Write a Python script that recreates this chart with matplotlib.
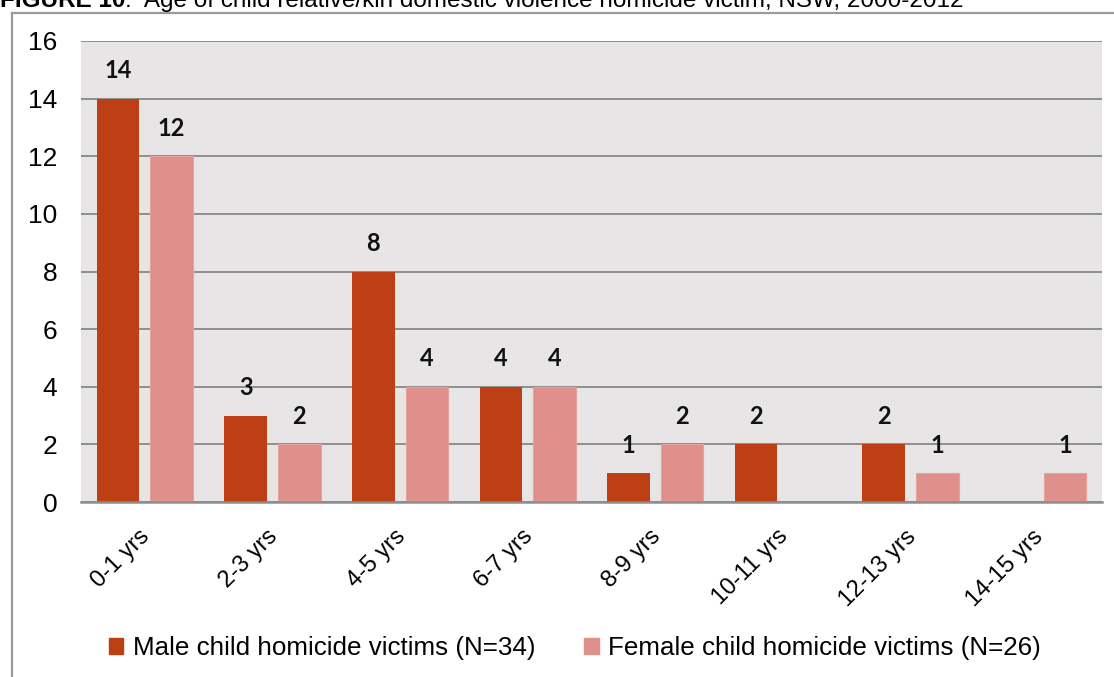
import matplotlib
matplotlib.use("Agg")
import matplotlib.pyplot as plt
from matplotlib.lines import Line2D
from matplotlib.patches import Patch
import matplotlib.transforms as mtransforms
import numpy as np

categories = ["0-1 yrs", "2-3 yrs", "4-5 yrs", "6-7 yrs", "8-9 yrs", "10-11 yrs", "12-13 yrs", "14-15 yrs"]
male = [14, 3, 8, 4, 1, 2, 2, 0]
female = [12, 2, 4, 4, 2, 0, 1, 1]
male_label = "Male child homicide victims (N=34)"
female_label = "Female child homicide victims (N=26)"
title_bold = "FIGURE 10"
title_rest = ":  Age of child relative/kin domestic violence homicide victim, NSW, 2000-2012"
yticks = [0, 2, 4, 6, 8, 10, 12, 14, 16]

W, H = 1114, 677
plt.rcParams['font.family'] = ['Liberation Sans', 'DejaVu Sans']
fig = plt.figure(figsize=(W / 100, H / 100), dpi=100)

left, right, top, bottom = 81, 1102, 41, 502
ax = fig.add_axes([left / W, (H - bottom) / H, (right - left) / W, (bottom - top) / H])
ax.set_facecolor("#E7E5E6")

x = np.arange(len(categories))
bw = 0.334
off = 0.21
male_c = "#BC4014"
female_c = "#E0908A"
ax.bar(x - off, male, width=bw, color=male_c, zorder=3)
ax.bar(x + off, female, width=bw, color=female_c, edgecolor="#E6A29D", linewidth=0.8, zorder=3)

lab_kw = dict(textcoords="offset points", ha="center", va="bottom", fontsize=17,
              fontweight="bold", family=["Lato", "DejaVu Sans"], color="#111111")
for xi, v in zip(x - off, male):
    if v > 0:
        ax.annotate(str(v), (xi, v), xytext=(0, 12), **lab_kw)
for xi, v in zip(x + off, female):
    if v > 0:
        ax.annotate(str(v), (xi, v), xytext=(0, 12), **lab_kw)

ax.set_xlim(-0.5, len(categories) - 0.5)
ax.set_ylim(0, 16)
ax.set_yticks(yticks)
ax.set_yticklabels([str(t) for t in yticks], fontsize=19)
ax.tick_params(axis="y", length=0, pad=17)
ax.set_xticks(x)
ax.set_xticklabels(categories, rotation=45, ha="right", rotation_mode="anchor", fontsize=17)
ax.tick_params(axis="x", length=0, pad=17)
ax.yaxis.grid(True, color="#8E8E8E", linewidth=1.4, zorder=1)
ax.set_axisbelow(True)
for s in ["top", "right", "left"]:
    ax.spines[s].set_visible(False)
ax.spines["bottom"].set_color("#8E8E8E")
ax.spines["bottom"].set_linewidth(1.8)
ax.spines["bottom"].set_zorder(4)

shift = mtransforms.ScaledTranslation(-6 / 100, 0, fig.dpi_scale_trans)
for lbl in ax.get_xticklabels():
    lbl.set_transform(lbl.get_transform() + shift)

# outer frame
fig.add_artist(Line2D([12 / W, 12 / W], [0, (H - 13) / H], color="#9A9A9A", linewidth=1.6))
fig.add_artist(Line2D([12 / W, 1], [(H - 13) / H, (H - 13) / H], color="#9A9A9A", linewidth=1.6))

# title (clipped at top as in the reference)
t1 = fig.text(0, (H - 7) / H, title_bold, fontsize=17.5, fontweight="bold", va="baseline", ha="left",
              family=["Liberation Sans Narrow", "Liberation Sans"])
fig.canvas.draw()
bb = t1.get_window_extent()
fig.text(bb.x1 / W, (H - 7) / H, title_rest, fontsize=17.5, va="baseline", ha="left",
         family=["Liberation Sans Narrow", "Liberation Sans"])

handles = [Patch(color=male_c), Patch(color=female_c)]
fig.legend(handles, [male_label, female_label], loc="center", bbox_to_anchor=(0.516, (H - 648) / H),
           ncol=2, frameon=False, fontsize=18.7, handlelength=0.55, handleheight=0.55,
           handletextpad=0.35, columnspacing=1.9)

fig.savefig("out.png", dpi=100)
